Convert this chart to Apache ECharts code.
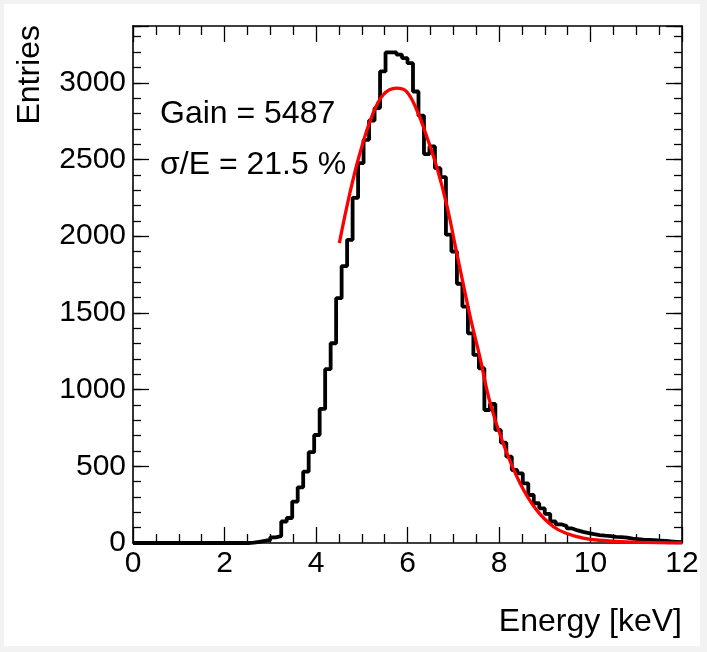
<!DOCTYPE html>
<html>
<head>
<meta charset="utf-8">
<script src="https://cdn.jsdelivr.net/npm/echarts@6/dist/echarts.min.js"></script>
<style>
  html, body { margin: 0; padding: 0; background: #f2f2f2; }
  #frame { position: absolute; left: 4px; top: 4px; width: 696px; height: 642px; background: #ffffff; }
  #chart { position: absolute; left: 0; top: 0; width: 707px; height: 652px; }
</style>
</head>
<body>
<div id="frame"></div>
<div id="chart"></div>
<script>
// Energy spectrum: 100 bins of 0.12 keV from 0 to 12 keV
const binLow = 0;
const binWidth = 0.12;
const counts = [
  0, 0, 0, 0, 0, 0, 0, 0, 0, 0,
  0, 0, 0, 0, 0, 0, 0, 0, 0, 0,
  0, 2, 8, 14, 20, 37, 45, 140, 163, 270,
  363, 465, 592, 704, 874, 1133, 1302, 1596, 1805, 1976,
  2250, 2476, 2628, 2754, 2835, 3074, 3198, 3198, 3183, 3161,
  3128, 2943, 2785, 2535, 2585, 2443, 2385, 2010, 1900, 1690,
  1541, 1367, 1226, 1139, 867, 906, 737, 654, 563, 476,
  454, 389, 313, 259, 226, 190, 140, 122, 110, 95,
  82, 72, 65, 58, 52, 48, 45, 40, 38, 35,
  28, 25, 22, 20, 18, 16, 14, 10, 8, 6
];

// Fitted peak curve, sampled along the energy axis
const fitEnergy = [4.51, 4.74, 4.96, 5.22, 5.47, 5.76, 5.98, 6.20, 6.42, 6.64, 6.86, 7.07, 7.37, 7.58, 7.80, 8.09, 8.46, 8.82, 9.19, 9.48, 9.84, 10.2, 10.9, 12.0];
const fitCounts = [1955, 2281, 2541, 2780, 2922, 2965, 2943, 2824, 2650, 2450, 2200, 1900, 1476, 1215, 920, 650, 389, 215, 106, 62, 32, 18, 6, 1];

// Axis ranges and tick labels
const xRange = [0, 12];
const yRange = [0, 3370];
const xMajor = 2;
const yMajor = 500;
const yMinor = 100;
const xTickLabels = ['0', '2', '4', '6', '8', '10', '12'];
const yTickLabels = ['0', '500', '1000', '1500', '2000', '2500', '3000'];

const annotations = ['Gain = 5487', 'σ/E = 21.5 %'];
const xTitle = 'Energy [keV]';
const yTitle = 'Entries';

const FONT = 'Liberation Sans, Arial, Helvetica, sans-serif';

// Step outline: each point is a bin's lower edge; the closing point ends the last bin
const histData = counts.map((c, i) => [binLow + i * binWidth, c]);
histData.push([binLow + counts.length * binWidth, counts[counts.length - 1]]);
const fitData = fitEnergy.map((e, i) => [e, fitCounts[i]]);

const black = '#000000';

function xAxisDef(position, showLabel) {
  return {
    type: 'value', position: position, min: xRange[0], max: xRange[1], interval: xMajor,
    axisLine: { show: true, onZero: false, lineStyle: { color: black, width: 1.6 } },
    axisTick: { show: true, inside: true, length: 16, lineStyle: { color: black, width: 1.3 } },
    minorTick: { show: true, splitNumber: 4, length: 9, lineStyle: { color: black, width: 1.3 } },
    splitLine: { show: false },
    axisLabel: {
      show: showLabel, color: black, fontSize: 30, fontFamily: FONT, margin: 6,
      formatter: v => { const k = Math.round(v / xMajor); return Math.abs(v - k * xMajor) < 1e-9 ? xTickLabels[k] : ''; }
    }
  };
}

function yAxisDef(position, interval, tickLen, showLabel, showLine) {
  return {
    type: 'value', position: position, min: yRange[0], max: yRange[1], interval: interval,
    axisLine: { show: showLine, onZero: false, lineStyle: { color: black, width: 1.6 } },
    axisTick: { show: true, inside: true, length: tickLen, lineStyle: { color: black, width: 1.3 } },
    splitLine: { show: false },
    axisLabel: {
      show: showLabel, color: black, fontSize: 30, fontFamily: FONT, margin: 7,
      formatter: v => (v % yMajor === 0 && v / yMajor < yTickLabels.length) ? yTickLabels[v / yMajor] : ''
    }
  };
}

const chart = echarts.init(document.getElementById('chart'), null, { renderer: 'canvas' });
chart.setOption({
  animation: false,
  backgroundColor: 'transparent',
  grid: { left: 133, top: 26, width: 549, height: 517, containLabel: false, show: false },
  xAxis: [xAxisDef('bottom', true), xAxisDef('top', false)],
  yAxis: [
    yAxisDef('left', yMajor, 16, true, true),
    yAxisDef('left', yMinor, 8, false, false),
    yAxisDef('right', yMajor, 16, false, true),
    yAxisDef('right', yMinor, 8, false, false)
  ],
  series: [
    {
      type: 'line', xAxisIndex: 0, yAxisIndex: 0, data: histData, step: 'end',
      symbol: 'none', lineStyle: { color: black, width: 3.8 }, z: 3
    },
    {
      type: 'line', xAxisIndex: 0, yAxisIndex: 0, data: fitData, smooth: 0.4,
      symbol: 'none', lineStyle: { color: '#ff0000', width: 3.3 }, z: 4
    }
  ],
  graphic: [
    { type: 'text', x: 160, y: 114, style: { text: annotations[0], fill: black, font: '32px ' + FONT, verticalAlign: 'middle' } },
    { type: 'text', x: 160, y: 165, style: { text: annotations[1], fill: black, font: '32px ' + FONT, verticalAlign: 'middle' } },
    { type: 'text', x: 682, y: 622, style: { text: xTitle, fill: black, font: '32px ' + FONT, align: 'right', verticalAlign: 'middle' } },
    { type: 'text', x: 30, y: 25, rotation: Math.PI / 2, style: { text: yTitle, fill: black, font: '32px ' + FONT, align: 'right', verticalAlign: 'middle' } }
  ]
});
</script>
</body>
</html>
